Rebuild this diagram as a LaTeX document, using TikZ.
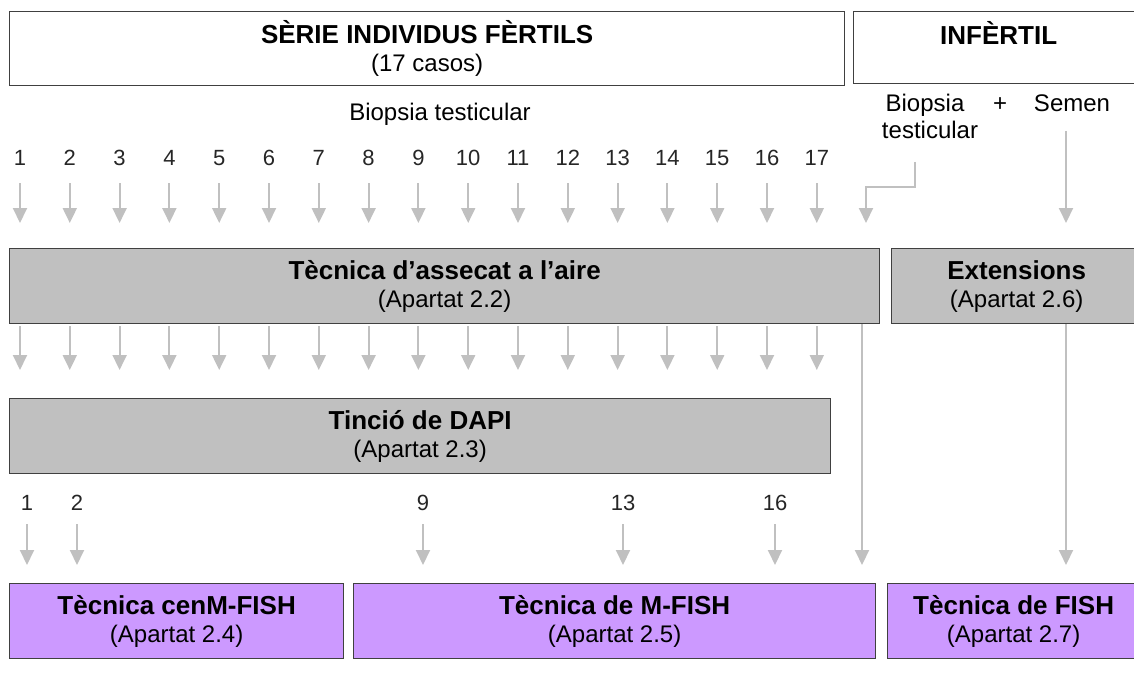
\documentclass[tikz,border=0pt]{standalone}
\usepackage{fontspec}
\setmainfont{Liberation Sans}
\usetikzlibrary{arrows.meta}
\definecolor{boxgray}{HTML}{C0C0C0}
\definecolor{arrgray}{HTML}{C0C0C0}
\definecolor{lila}{HTML}{CC99FF}
\definecolor{edgegray}{HTML}{404040}
\newcommand{\boxtitle}[1]{{\fontsize{26}{28}\selectfont\bfseries #1}}

\begin{document}
\begin{tikzpicture}[x=1pt, y=-1pt,
  box/.style={rectangle, draw=edgegray, line width=1.3pt, anchor=north west,
    inner sep=0pt, align=center, font=\fontsize{24}{28}\selectfont},
  graybox/.style={box, fill=boxgray},
  lilabox/.style={box, fill=lila},
  txt/.style={font=\fontsize{24}{28}\selectfont, anchor=base, inner sep=0pt},
  num/.style={font=\fontsize{22}{26}\selectfont, text=black!85},
  arr/.style={draw=arrgray, line width=2pt, -{Triangle[width=14pt,length=15pt]}},
  ln/.style={draw=arrgray, line width=2pt}
]
\clip (0,0) rectangle (1134,695);

% --- header boxes ---
\node[box, minimum width=835, minimum height=74] (fert) at (9,11)
  {\boxtitle{SÈRIE INDIVIDUS FÈRTILS}\\(17 casos)};
\node[box, minimum width=290, minimum height=72, text depth=30pt] (infert) at (853,11)
  {\boxtitle{INFÈRTIL}};

% --- sample labels ---
\node[txt] (biop) at (440,121) {Biopsia testicular};
\node[txt] (biop2) at (925,112) {Biopsia};
\node[txt] (plus) at (1000,112) {+};
\node[txt] (semen) at (1072,112) {Semen};
\node[txt] (testic) at (930,139) {testicular};

% --- technique boxes ---
\node[graybox, minimum width=870, minimum height=75] (air) at (9,248)
  {\boxtitle{Tècnica d’assecat a l’aire}\\(Apartat 2.2)};
\node[graybox, minimum width=250, minimum height=75] (ext) at (891,248)
  {\boxtitle{Extensions}\\(Apartat 2.6)};
\node[graybox, minimum width=821, minimum height=75] (dapi) at (9,398)
  {\boxtitle{Tinció de DAPI}\\(Apartat 2.3)};
\node[lilabox, minimum width=334, minimum height=75] (cenm) at (9,583)
  {\boxtitle{Tècnica cenM-FISH}\\(Apartat 2.4)};
\node[lilabox, minimum width=522, minimum height=75] (mfish) at (353,583)
  {\boxtitle{Tècnica de M-FISH}\\(Apartat 2.5)};
\node[lilabox, minimum width=252, minimum height=75] (fish) at (887,583)
  {\boxtitle{Tècnica de FISH}\\(Apartat 2.7)};

% --- 17 fertile cases: numbers and arrows ---
\foreach \i in {1,...,17} {
  \pgfmathsetmacro{\xx}{20+49.8*(\i-1)}
  \node[num] (n\i) at (\xx,158) {\i};
  \coordinate (t\i) at (\xx,223);
  \coordinate (u\i) at (\xx,370);
  \draw[arr, shorten <=14pt] (n\i) -- (t\i);
  \draw[arr, shorten <=2pt] (air.south -| t\i) -- (u\i);
}

% --- infertile: biopsy and semen ---
\coordinate (k1) at (915,162);
\coordinate (t18) at (866,223);
\coordinate (s19) at (1066,131);
\coordinate (t19) at (1066,223);
\draw[arr] (k1) -- ++(0,25) -| (t18);
\draw[arr] (s19) -- (t19);

% --- cases sent to cenM-FISH / M-FISH ---
\node[num] (m1) at (27,503) {1};
\node[num] (m2) at (77,503) {2};
\node[num] (m9) at (423,503) {9};
\node[num] (m13) at (623,503) {13};
\node[num] (m16) at (775,503) {16};
\coordinate (v1) at (27,565);
\coordinate (v2) at (77,565);
\coordinate (v9) at (423,565);
\coordinate (v13) at (623,565);
\coordinate (v16) at (775,565);
\draw[arr, shorten <=10pt] (m1) -- (v1);
\draw[arr, shorten <=10pt] (m2) -- (v2);
\draw[arr, shorten <=10pt] (m9) -- (v9);
\draw[arr, shorten <=10pt] (m13) -- (v13);
\draw[arr, shorten <=10pt] (m16) -- (v16);

% --- long connectors on the right ---
\coordinate (v18) at (862,565);
\coordinate (v19) at (1066,565);
\draw[arr] (air.south -| v18) -- (v18);
\draw[arr] (ext.south -| v19) -- (v19);

\end{tikzpicture}
\end{document}
